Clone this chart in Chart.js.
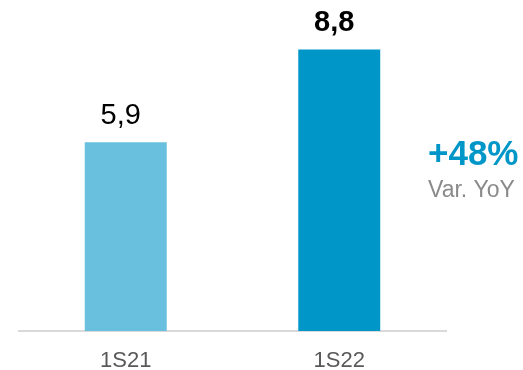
<!DOCTYPE html>
<html>
<head>
<meta charset="utf-8">
<script src="https://cdn.jsdelivr.net/npm/chart.js@4.4.0/dist/chart.umd.min.js"></script>
<style>
  html, body { margin: 0; padding: 0; background: #fff; }
  #wrap { position: relative; width: 523px; height: 370px; }
</style>
</head>
<body>
<div id="wrap"><canvas id="semestreChart"></canvas></div>
<script>
// half-year figures
var periodos = ['1S21', '1S22'];
var valores = [5.9, 8.8];
var etiquetas = ['5,9', '8,8'];
var coresBarras = ['#68c0de', '#0097c8'];
var variacao = '+48%';
var variacaoLabel = 'Var. YoY';

var FONT = '"Liberation Sans", Arial, sans-serif';

// value labels above each bar plus the YoY note on the right
var rotulosPlugin = {
    id: 'rotulos',
    afterDatasetsDraw: function(chart) {
        var ctx = chart.ctx;
        var meta = chart.getDatasetMeta(0);
        ctx.save();
        ctx.textAlign = 'center';
        ctx.textBaseline = 'alphabetic';
        ctx.fillStyle = '#000';
        meta.data.forEach(function(bar, i) {
            var ultimo = i === meta.data.length - 1;
            ctx.font = (ultimo ? 'bold ' : '') + '29px ' + FONT;
            ctx.fillText(etiquetas[i], bar.x - 5, bar.y - 18);
        });

        var area = chart.chartArea;
        ctx.textAlign = 'left';
        ctx.fillStyle = '#0097c8';
        ctx.font = 'bold 35px ' + FONT;
        ctx.fillText(variacao, area.right - 18, 165);
        ctx.fillStyle = '#8a8a8a';
        ctx.font = '23px ' + FONT;
        ctx.fillText(variacaoLabel, area.right - 18, 197);
        ctx.restore();
    }
};

document.addEventListener('DOMContentLoaded', function() {
    var ctx = document.getElementById('semestreChart').getContext('2d');
    new Chart(ctx, {
        type: 'bar',
        data: {
            labels: periodos,
            datasets: [{
                data: valores,
                backgroundColor: coresBarras,
                borderWidth: 0,
                barPercentage: 0.384,
                categoryPercentage: 1
            }]
        },
        options: {
            responsive: true,
            maintainAspectRatio: false,
            animation: false,
            layout: { padding: { left: 19, right: 77, top: 11, bottom: 0 } },
            plugins: {
                legend: { display: false },
                tooltip: { enabled: false }
            },
            scales: {
                x: {
                    grid: { display: false },
                    border: { display: true, color: '#d9d9d9', width: 2 },
                    ticks: {
                        color: '#595959',
                        padding: 9,
                        font: { family: FONT, size: 22 }
                    },
                    afterFit: function(scale) {
                        // keep the baseline at y = 331
                        scale.height = 39;
                    }
                },
                y: {
                    display: false,
                    min: 0,
                    max: 10
                }
            }
        },
        plugins: [rotulosPlugin]
    });
});
</script>
</body>
</html>
